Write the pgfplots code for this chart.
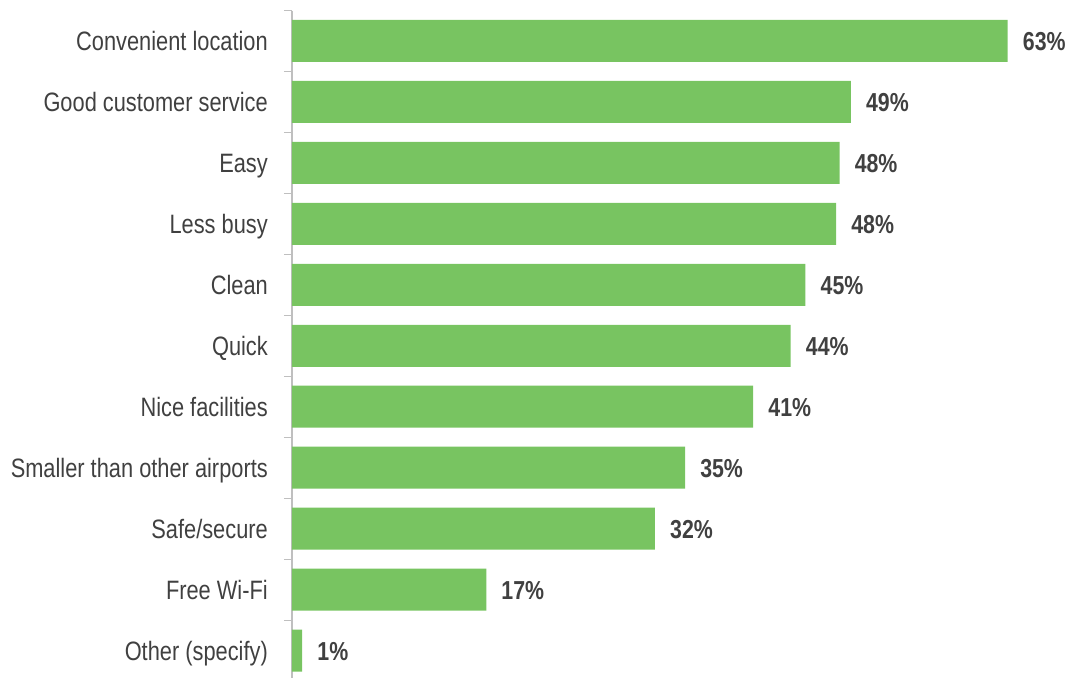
\documentclass[border=0pt]{standalone}
\usepackage{fontspec}
\setmainfont{Liberation Sans}[FakeStretch=0.82]
\usepackage{pgfplots}
\pgfplotsset{compat=1.18}
\definecolor{barg}{HTML}{78C461}
\definecolor{txt}{HTML}{404040}
\definecolor{axg}{HTML}{BFBFBF}
\begin{document}
\begin{tikzpicture}
\begin{axis}[
  at={(0pt,0pt)}, anchor=south west,
  scale only axis,
  width=715.7pt, height=667.5pt,
  xmin=0, xmax=63,
  ymin=-0.5, ymax=10.45,
  y dir=reverse,
  xbar, bar width=42pt,
  axis x line=none,
  axis y line=left,
  axis line style={draw=axg, line width=1.2pt, -},
  ytick={0,...,10},
  yticklabels={Convenient location, Good customer service, Easy, Less busy, Clean, Quick, Nice facilities, Smaller than other airports, Safe/secure, Free Wi-Fi, Other (specify)},
  major tick length=0pt,
  minor ytick={-0.5,0.5,...,9.5},
  minor tick length=8pt,
  tick align=outside,
  minor tick style={draw=axg, line width=1.2pt},
  yticklabel style={anchor=east, inner sep=0pt, xshift=-24pt, text height=19pt, text depth=0pt, font=\fontsize{26.6}{30}\selectfont, text=txt},
  clip=false,
  point meta=x,
  nodes near coords={\pgfmathprintnumber[assume math mode=true, fixed, precision=0]{\pgfplotspointmeta}\%},
  nodes near coords style={anchor=west, inner sep=0pt, xshift=15pt, text height=19pt, text depth=0pt, font=\fontsize{26}{30}\selectfont\bfseries, text=txt},
]
\addplot[fill=barg, draw=none] coordinates {
(63,0) (49.2,1) (48.2,2) (47.9,3) (45.2,4) (43.9,5) (40.6,6) (34.6,7) (31.95,8) (17.1,9) (0.9,10)
};
\end{axis}
\pgfresetboundingbox
\path[use as bounding box] (-292pt,0pt) rectangle (778pt,678pt);
\end{tikzpicture}
\end{document}
